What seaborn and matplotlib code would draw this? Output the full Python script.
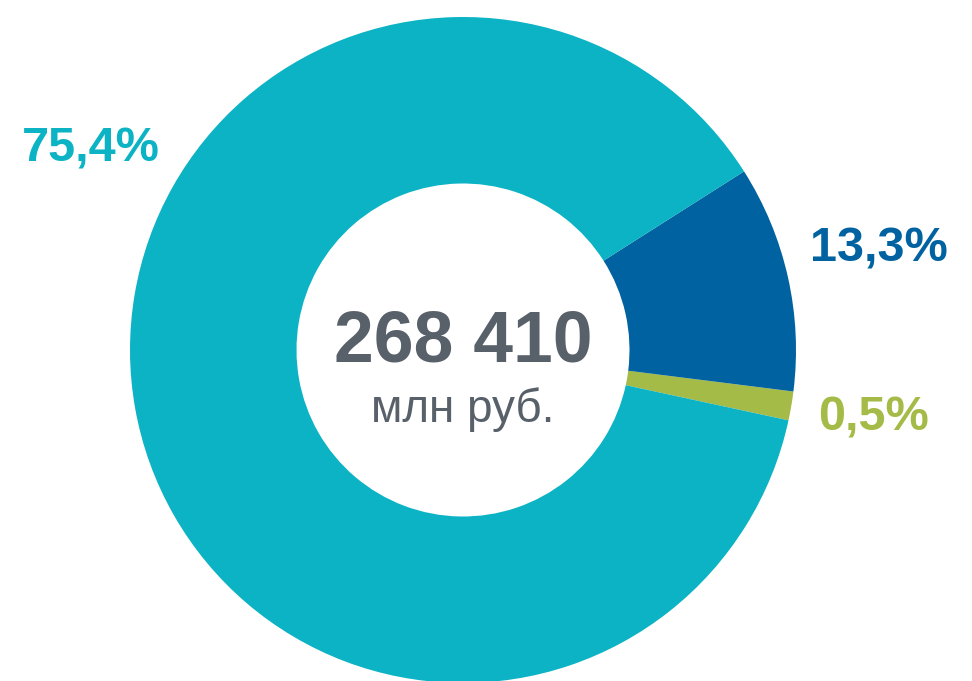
# Donut: structure of 268 410 mln rub.
import matplotlib
matplotlib.use("Agg")
import matplotlib.pyplot as plt
import seaborn as sb

# data
labels = ['75,4%', '13,3%', '0,5%']
shares = [87.6, 11.0, 1.4]          # wedge sizes as drawn (percent of circle)
colors = ['#0BB3C4', '#0062A0', '#A5BB47']
total_text = '268 410'
unit_text = 'млн руб.'

sb.set_theme(style='white')
plt.rcParams['font.family'] = ['Liberation Sans', 'DejaVu Sans']

fig = plt.figure(figsize=(9.72, 6.81), dpi=100)
ax = fig.add_axes([0, 0, 1, 1])

# order counter-clockwise: green, blue, teal (start at -12.2 deg)
ax.pie([shares[2], shares[1], shares[0]],
       colors=[colors[2], colors[1], colors[0]],
       startangle=-12.2, counterclock=True, radius=1.0,
       wedgeprops=dict(width=0.5, linewidth=0))

ax.set_xlim(-463 / 333, (972 - 463) / 333)
ax.set_ylim(-(681 - 350) / 333, 350 / 333)
ax.set_aspect('equal')
ax.axis('off')

# percentage labels
ax.text(-1.324, 0.565, labels[0], color=colors[0], fontsize=35,
        fontweight='bold', ha='left', va='baseline')
ax.text(1.042, 0.267, labels[1], color=colors[1], fontsize=35,
        fontweight='bold', ha='left', va='baseline')
ax.text(1.066, -0.243, labels[2], color=colors[2], fontsize=35,
        fontweight='bold', ha='left', va='baseline')

# centre text
ax.text(0.0, -0.036, total_text, color='#58606A', fontsize=51.5,
        fontweight='bold', ha='center', va='baseline')
ax.text(0.0, -0.216, unit_text, color='#58606A', fontsize=33,
        ha='center', va='baseline')

fig.savefig('out.png', dpi=100)
